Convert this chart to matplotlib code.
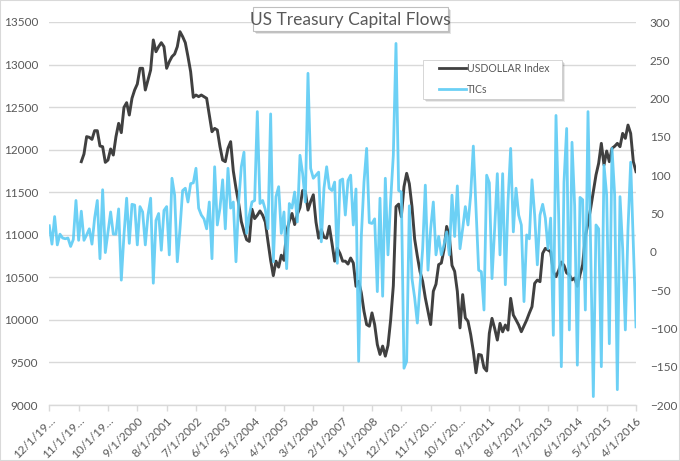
import matplotlib
matplotlib.use("Agg")
import matplotlib.pyplot as plt
import numpy as np
from matplotlib.patches import Rectangle
from matplotlib.lines import Line2D

# ---------------- data ----------------
tick_labels = ["12/1/19…", "11/1/19…", "10/1/19…", "9/1/2000", "8/1/2001",
               "7/1/2002", "6/1/2003", "5/1/2004", "4/1/2005", "3/1/2006",
               "2/1/2007", "1/1/2008", "12/1/20…", "11/1/20…", "10/1/20…",
               "9/1/2011", "8/1/2012", "7/1/2013", "6/1/2014", "5/1/2015",
               "4/1/2016"]

# TICs, monthly from 12/1997 to 4/2016
tics = [34, 10, 46, 9, 23, 18, 17, 18, 7, 16,
        67, 15, 53, 15, 22, 30, 10, 44, 67, -9,
        81, -1, 26, 52, 23, 23, 56, -37, 22, 70,
        11, 62, 61, 9, 59, 52, 9, 48, 70, -41,
        41, 50, 2, 54, 59, -4, 96, 74, -13, 30,
        80, 83, 65, 89, 90, 109, 57, 48, 43, 30,
        65, -9, 111, 35, 57, 94, 30, 109, 57, 65,
        -13, 65, 111, 130, 24, 48, 65, 67, 183, 63,
        67, 55, 30, 180, -13, 72, 85, 24, 52, -22,
        63, 57, 78, 39, 126, 102, 65, 233, 109, 96,
        100, 104, 13, 83, 111, 83, 80, 91, -15, 93,
        95, 48, 93, 100, 35, 82, -143, 20, 91, 135,
        38, 37, 43, -52, 70, -58, 96, -4, 67, 126,
        272, 80, 78, -152, -143, 60, -35, -60, -93, -45,
        4, 87, -24, 30, 65, -4, 20, -4, 9, 26,
        -4, 74, 20, 86, 4, 30, 59, 35, 74, 138,
        57, -24, -26, -76, 100, 90, -35, 30, 102, -4,
        102, -43, 65, 135, 26, 83, 48, 35, -65, 22,
        17, 94, 48, -17, 48, 62, 44, 4, 44, -109,
        178, 48, -150, 91, 161, -102, 143, 60, -148, 71,
        68, -76, 183, 4, -189, 35, 30, -150, 113, 74,
        -120, 135, 74, -180, 72, 4, -102, 30, 117, 10,
        -98]

# USDOLLAR index, monthly from 12/1998 to 4/2016
usd_start = 12
usd = [11859, 11949, 12153, 12145, 12121, 12223, 12223, 12043, 12035, 11851,
       11878, 12008, 11937, 12153, 12309, 12200, 12497, 12552, 12407, 12603,
       12701, 12771, 12956, 12956, 12701, 12818, 12936, 13289, 13151, 13210,
       13257, 13210, 12956, 13034, 13093, 13124, 13210, 13386, 13328, 13257,
       13093, 12916, 12615, 12642, 12623, 12642, 12623, 12603, 12407, 12211,
       12250, 12231, 12035, 11878, 11859, 12016, 12094, 11750, 11547, 11371,
       11156, 11039, 10942, 10922, 11300, 11190, 11230, 11280, 11230, 11150,
       10920, 10700, 10520, 10690, 10620, 10760, 10700, 11040, 11160, 11250,
       11120, 11240, 11320, 11520, 11510, 11290, 11390, 11470, 11150, 10960,
       11060, 10970, 10960, 11100, 10900, 10690, 10840, 10780, 10690, 10690,
       10656, 10727, 10668, 10395, 10453, 10317, 10102, 9945, 9926, 10082,
       9945, 9711, 9594, 9692, 9574, 9700, 10000, 10400, 11330, 11360,
       11212, 11565, 11722, 11600, 11330, 10950, 10750, 10570, 10453, 10258,
       10102, 9945, 10336, 10420, 10649, 10668, 10824, 11098, 10981, 10640,
       10570, 10336, 9906, 10297, 10023, 9984, 9830, 9633, 9379, 9594,
       9586, 9438, 9400, 9842, 10018, 9900, 9763, 9959, 9860, 9940,
       9880, 10253, 10057, 10000, 9940, 9861, 9930, 9998, 10080, 10155,
       10429, 10468, 10449, 10782, 10840, 10821, 10800, 10566, 10508, 10580,
       10680, 10640, 10551, 10531, 10470, 10492, 10395, 10531, 10649, 10980,
       11137, 11312, 11508, 11703, 11840, 12074, 11820, 11984, 11859, 12016,
       12040, 12074, 12035, 12191, 12133, 12289, 12191, 11859, 11742]

series_names = ["USDOLLAR Index", "TICs"]

# ---------------- style ----------------
plt.rcParams['font.family'] = ['Lato', 'DejaVu Sans']
TXT = '#595959'
GRID = '#d9d9d9'
BLACK = '#404040'
BLUE = '#5ccbf4'

W, H = 680, 461
fig = plt.figure(figsize=(W / 100, H / 100), dpi=100)
fig.patch.set_facecolor('white')

L, R, T, B = 49.3, 636.0, 22.0, 405.0
ax = fig.add_axes([L / W, 1 - B / H, (R - L) / W, (B - T) / H])
ax2 = ax.twinx()

x_tics = np.arange(len(tics))
x_usd = np.arange(usd_start, usd_start + len(usd))

ax.plot(x_usd, usd, color=BLACK, lw=2.1, solid_joinstyle='round', zorder=3)
ax2.plot(x_tics, tics, color=BLUE, lw=2.0, alpha=0.9, solid_joinstyle='round', zorder=3)

ax.set_xlim(0, len(tics) - 1)
ax.set_ylim(9000, 13500)
ax2.set_ylim(-200, 300)
ax.set_yticks(np.arange(9000, 13501, 500))
ax2.set_yticks(np.arange(-200, 301, 50))

ax.grid(axis='y', color=GRID, lw=1.0)
ax.set_axisbelow(True)
for s in ['top', 'left', 'right']:
    ax.spines[s].set_visible(False)
    ax2.spines[s].set_visible(False)
ax2.spines['bottom'].set_visible(False)
ax.spines['bottom'].set_color(GRID)
ax.spines['bottom'].set_linewidth(1.0)

tick_pos = np.arange(0, len(tics), 11)
ax.set_xticks(tick_pos)
ax.set_xticklabels(tick_labels, rotation=45, ha='right', rotation_mode='anchor')
ax.tick_params(axis='x', length=4, width=1, color=GRID, labelcolor=TXT, labelsize=8.5, pad=3)
ax.tick_params(axis='y', length=0, labelcolor=TXT, labelsize=8.5, pad=8)
ax2.tick_params(axis='y', length=0, labelcolor=TXT, labelsize=8.5, pad=10)

# ---------------- title box ----------------
def px_rect(x0, y0, x1, y1, **kw):
    return Rectangle((x0 / W, 1 - y1 / H), (x1 - x0) / W, (y1 - y0) / H,
                     transform=fig.transFigure, **kw)

for off, a in [(3, 0.10), (2, 0.15), (1, 0.2)]:
    fig.patches.append(px_rect(253 + off, 7 + off, 448 + off, 31 + off,
                               facecolor='#000000', edgecolor='none', alpha=a, zorder=5))
fig.patches.append(px_rect(253, 7, 448, 31, facecolor='white', edgecolor='#bfbfbf',
                           lw=0.8, zorder=6))
fig.text(350.5 / W, 1 - 19.5 / H, "US Treasury Capital Flows", ha='center', va='center',
         fontsize=12.5, color=TXT, zorder=7)

# ---------------- legend box ----------------
for off, a in [(3, 0.08), (2, 0.12), (1, 0.18)]:
    fig.patches.append(px_rect(423 + off, 60 + off, 562 + off, 99 + off,
                               facecolor='#000000', edgecolor='none', alpha=a, zorder=5))
fig.patches.append(px_rect(423, 60, 562, 99, facecolor='white', edgecolor='#d0d0d0',
                           lw=0.6, zorder=6))
for name, yy, col, al in [(series_names[0], 68.5, BLACK, 1.0), (series_names[1], 89.5, BLUE, 0.9)]:
    fig.lines.append(Line2D([439 / W, 466 / W], [1 - yy / H, 1 - yy / H], transform=fig.transFigure,
                            color=col, lw=2.0, alpha=al, zorder=7))
    fig.text(467 / W, 1 - yy / H, name, ha='left', va='center', fontsize=7.6, color=TXT, zorder=7)

# outer border
fig.patches.append(Rectangle((0, 0), 1, 1, transform=fig.transFigure, fill=False,
                             edgecolor='#d9d9d9', lw=1.5, zorder=10))

fig.savefig('out.png', dpi=100, facecolor='white')
